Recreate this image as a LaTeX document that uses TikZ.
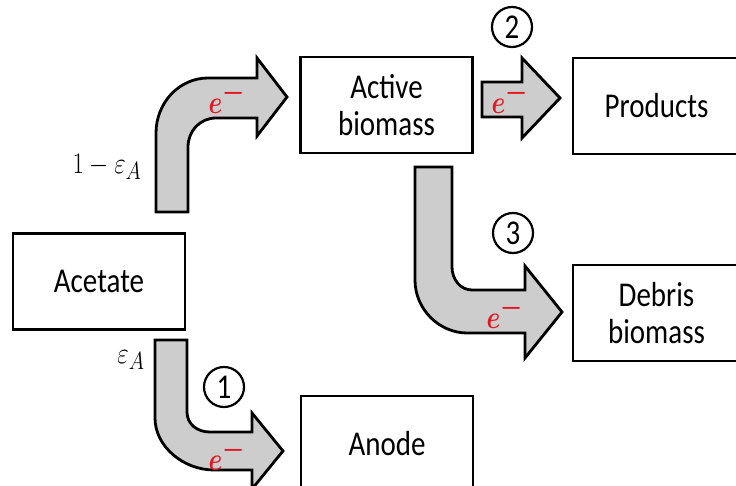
\documentclass[tikz,border=0pt]{standalone}
\usepackage{amsmath}
\usepackage[no-math]{fontspec}
\setmainfont{Carlito}
\usepackage{tikz}
\usetikzlibrary{positioning}

\definecolor{ered}{RGB}{225,25,35}
\definecolor{flowgray}{RGB}{205,205,205}
\newcommand{\tall}[1]{\scalebox{1}[1.2]{#1}}
\newcommand{\elec}{\scalebox{1}[1.3]{$\boldsymbol{e}^{\boldsymbol{-}}$}}

\begin{document}
\begin{tikzpicture}[x=1pt, y=-1pt]
			\tikzstyle{Box}		= [rectangle, draw, line width=2.8pt, fill=white, minimum width=172pt, minimum height=96pt, align=center, inner sep=0pt, font=\fontsize{29}{37}\selectfont]
			\tikzstyle{Flow}	= [draw, line width=2.8pt, fill=flowgray, line join=miter]
			\tikzstyle{Elec}	= [text=ered, inner sep=0pt, font=\fontsize{33}{33}\selectfont]
			\tikzstyle{Num}		= [circle, draw, line width=2.2pt, minimum size=40pt, inner sep=0pt, font=\fontsize{29}{29}\selectfont]
			\tikzstyle{Frac}	= [inner sep=0pt, font=\fontsize{31}{31}\selectfont]

			\useasboundingbox (0,0) rectangle (736,486);
			\clip (0,0) rectangle (736,486);

			% boxes
			\node (act) at (386.5,105) [Box] {\tall{Active}\\\tall{biomass}};
			\node (prod) at (656.5,106) [Box, minimum width=167pt] {\tall{Products}};
			\node (acet) at (99,281.5) [Box] {\tall{Acetate}};
			\node (deb) at (656.5,313) [Box, minimum width=167pt] {\tall{Debris}\\\tall{biomass}};
			\node (anode) at (387,444) [Box] {\tall{Anode}};

			% electron flows
			\draw [Flow] (156,212) -- (156,133) .. controls (156,103) and (179,78) .. (208,78) -- (257,78) -- (257,58) -- (287,97) -- (257,136) -- (257,118) -- (216,118) .. controls (200,118) and (188,131) .. (188,147) -- (188,212) -- cycle;
			\draw [Flow] (155,340) -- (155,418) .. controls (155,447) and (184,470) .. (214,470) -- (252,470) -- (252,489) -- (283,451) -- (252,413) -- (252,432) -- (210,432) .. controls (197,432) and (187,424) .. (187,412) -- (187,340) -- cycle;
			\draw [Flow] (415,167) -- (415,280) .. controls (415,310) and (440,333) .. (467,333) -- (525,333) -- (525,358) -- (562,312) -- (525,266) -- (525,290) -- (472,290) .. controls (460,290) and (452,279) .. (452,267) -- (452,167) -- cycle;
			\draw [Flow] (482,82) -- (522,82) -- (522,58) -- (560,98) -- (522,138) -- (522,117) -- (482,117) -- cycle;

			\node (e0) at (227,97) [Elec] {\elec};
			\node (e1) at (227,454) [Elec] {\elec};
			\node (e2) at (510,97) [Elec] {\elec};
			\node (e3) at (505,312) [Elec] {\elec};

			% pathways
			\node (n1) at (224,387) [Num] {\tall{1}};
			\node (n2) at (512,27) [Num] {\tall{2}};
			\node (n3) at (513,233) [Num] {\tall{3}};

			\node (fup) at (107,167) [Frac] {\tall{$1-\varepsilon_{A}$}};
			\node (fdown) at (131,360) [Frac] {\tall{$\varepsilon_{A}$}};
		\end{tikzpicture}
\end{document}
